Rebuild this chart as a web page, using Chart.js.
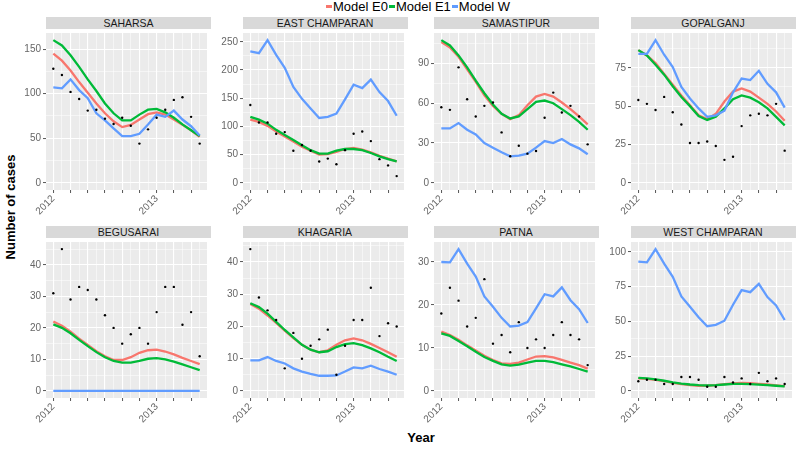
<!DOCTYPE html>
<html>
<head>
<meta charset="utf-8">
<script src="https://cdn.jsdelivr.net/npm/chart.js@4.4.0/dist/chart.umd.min.js"></script>
<style>
  body { margin: 0; width: 796px; height: 452px; background: #fff; position: relative; overflow: hidden;
         font-family: "Liberation Sans", Arial, sans-serif; }
  .panel { position: absolute; }
  .strip { position: absolute; background: #D9D9D9; color: #1A1A1A; font-size: 10.5px; text-align: center;
           height: 12.5px; line-height: 13px; white-space: nowrap; }
  #legend { position: absolute; left: 326px; top: -1px; display: flex; align-items: center; font-size: 13px; color: #000; }
  #legend span.key { display: inline-block; width: 6px; height: 2.5px; margin: 0 1px 0 0; }
  #legend span.txt { margin-right: 1px; }
  #ytitle { position: absolute; left: 10px; top: 207px; transform: translate(-50%, -50%) rotate(-90deg);
            font-weight: bold; font-size: 13px; white-space: nowrap; }
  #xtitle { position: absolute; left: 421px; top: 437px; transform: translate(-50%, -50%);
            font-weight: bold; font-size: 13px; }
</style>
</head>
<body>
<div id="legend"></div>
<div id="ytitle">Number of cases</div>
<div id="xtitle">Year</div>
<script>
// monthly points, Jan 2012 .. Jun 2013
const months = ['2012-01', '2012-02', '2012-03', '2012-04', '2012-05', '2012-06', '2012-07', '2012-08', '2012-09',
                '2012-10', '2012-11', '2012-12', '2013-01', '2013-02', '2013-03', '2013-04', '2013-05', '2013-06'];

const districts = ['SAHARSA', 'EAST CHAMPARAN', 'SAMASTIPUR', 'GOPALGANJ',
                   'BEGUSARAI', 'KHAGARIA', 'PATNA', 'WEST CHAMPARAN'];

// y tick spacing of each facet
const tickSteps = [50, 50, 30, 25, 10, 10, 10, 25];

// observed cases (black dots)
const observed = [
  [128, 121, 102, 94, 81, 82, 72, 66, 73, 64, 44, 60, 73, 82, 93, 96, 74, 44],
  [138, 107, 107, 87, 90, 57, 67, 57, 38, 43, 33, 58, 87, 91, 74, 42, 31, 12],
  [57, 55, 87, 63, 50, 58, 60.5, 38, 20, 28, 22, 24, 49, 68, 53, 58, 50, 29],
  [54, 51.5, 47.5, 56, 46, 38, 26, 26, 27, 24, 15, 17, 37, 44, 45, 44, 51.5, 21],
  [31, 45, 29, 33, 32, 29, 24, 20, 15, 18, 20, 15, 25, 33, 33, 21, 25, 11],
  [44, 29, 25, 22, 7, 18, 10, 14, 16, 19, 5, 14, 22, 22, 32, 17, 21, 20],
  [18, 24, 21, 15, 17, 26, 11, 13, 9, 16, 10, 12, 10, 13, 16, 13, 12, 6],
  [7, 8, 8, 5, 5, 10, 10, 8, 3, 3, 10, 6, 9, 5, 13, 7, 9, 5]
];

const modelE0 = [
  [145, 137, 126, 113, 101, 89, 78, 69, 62.5, 65, 71, 77, 79, 76.5, 71, 65, 59, 51.5],
  [112, 108, 101, 91, 82, 73.5, 64, 57, 50, 51, 55, 60, 62, 59, 54, 48, 43, 38],
  [106, 102, 95, 85.5, 76, 66, 58, 52, 48, 51, 58.5, 65, 67, 65, 60.5, 55.5, 50, 44],
  [86.5, 83, 78, 71, 64, 57, 50.5, 44, 41.5, 45, 53, 59.5, 61.5, 59.5, 55.5, 51.5, 46.5, 40.5],
  [22, 20.7, 18.8, 16.6, 14.6, 12.6, 11, 9.8, 9.8, 10.7, 12.1, 12.9, 13.1, 12.5, 11.6, 10.5, 9.5, 8.5],
  [27, 25.5, 23.4, 21.1, 18.7, 16.4, 14.3, 12.8, 12, 12.6, 14.3, 15.7, 16.3, 15.7, 14.6, 13.3, 12, 10.6],
  [13.8, 13, 11.9, 10.6, 9.4, 8.2, 7.2, 6.4, 6.3, 6.6, 7.3, 8, 8.1, 7.8, 7.2, 6.6, 6, 5.2],
  [9.1, 8.6, 7.9, 7, 5.8, 4.9, 4.2, 3.7, 3.7, 4.2, 4.9, 5.4, 5.7, 5.6, 5.1, 4.6, 4, 3.5]
];

const modelE1 = [
  [160, 154, 143, 130, 116, 103, 89, 78, 70, 70, 76.5, 82, 83, 79, 73, 65.5, 59, 52.5],
  [117, 112, 105, 94, 85, 76, 66.5, 58, 52, 52, 57, 60, 60, 58, 53, 47, 42, 38],
  [107.5, 103.5, 96, 87, 77, 67.5, 59, 52, 48.5, 50, 55.5, 61, 62, 60, 55.5, 51, 46, 40],
  [86.5, 83, 77, 70.5, 63, 56, 50, 43.5, 41, 43, 48.5, 54.5, 57, 55.5, 52.5, 48.5, 43, 37.5],
  [21.1, 20, 18.3, 16.2, 14.2, 12.3, 10.7, 9.5, 9, 9, 9.5, 10.2, 10.4, 10, 9.3, 8.4, 7.5, 6.6],
  [27.2, 26, 24, 21.4, 18.9, 16.6, 14.3, 12.8, 12, 12.3, 13.6, 14.5, 14.8, 14.2, 13.2, 12, 10.6, 9.3],
  [13.4, 12.8, 11.6, 10.4, 9.1, 7.9, 7, 6.2, 5.9, 6.1, 6.6, 7, 7, 6.7, 6.2, 5.7, 5.1, 4.5],
  [9.4, 9, 8.3, 7.3, 6.2, 5.3, 4.6, 4.1, 3.9, 4.1, 4.6, 5, 5.1, 4.9, 4.5, 4.1, 3.7, 3.3]
];

const modelW = [
  [107, 106, 116, 104, 95, 78, 70, 61, 52.5, 52.5, 55, 65.5, 76.5, 74, 81, 71, 63.5, 53],
  [233, 230, 253, 227, 204, 170, 149, 132, 115, 117, 123, 148, 174, 168, 183, 161, 145, 119],
  [41, 41, 45, 40, 36.5, 30, 26.5, 23, 20, 20.5, 22, 26.5, 31.5, 30, 33, 29, 26, 21.5],
  [84, 84, 93, 83.5, 75.5, 62.5, 55, 48.5, 43, 44, 47, 59, 68, 67, 73, 64.5, 59, 49],
  [0, 0, 0, 0, 0, 0, 0, 0, 0, 0, 0, 0, 0, 0, 0, 0, 0, 0],
  [9.5, 9.5, 10.5, 9.3, 8.5, 7, 6, 5.3, 4.7, 4.7, 4.8, 6, 7.3, 7, 7.8, 6.8, 6, 5],
  [30, 29.9, 33, 29.6, 26.6, 22, 19.6, 17, 15, 15.2, 16, 19.2, 22.5, 22, 24.1, 21.1, 19, 15.8],
  [93, 92.5, 102, 91.5, 82, 68, 60.5, 53, 46.5, 47.5, 50.5, 62, 72.5, 71, 77, 67.5, 61.5, 51]
];

const seriesNames = ['Model E0', 'Model E1', 'Model W'];
const seriesColors = ['#F8766D', '#00BA38', '#619CFF'];

// facet layout
const colLeft = [46, 242.5, 433.5, 630.5];
const rowTop = [29, 238];
const panelW = 165;
const panelH = [161, 160];
const axisW = 40;
const xAxisH = 34;
const axisTextColor = '#666';

const legend = document.getElementById('legend');
seriesNames.forEach((name, k) => {
  const key = document.createElement('span');
  key.className = 'key';
  key.style.background = seriesColors[k];
  const txt = document.createElement('span');
  txt.className = 'txt';
  txt.textContent = name;
  legend.appendChild(key);
  legend.appendChild(txt);
});

const panelBg = {
  id: 'panelBg',
  beforeDraw(chart) {
    const { ctx, chartArea: a } = chart;
    ctx.save();
    ctx.fillStyle = '#EBEBEB';
    ctx.fillRect(a.left, a.top, a.width, a.height);
    ctx.restore();
  }
};

const toPoints = arr => arr.map((v, i) => ({ x: i, y: v }));
const xPad = (months.length - 1) * 0.05;

districts.forEach((name, i) => {
  const col = i % 4, row = Math.floor(i / 4);
  const left = colLeft[col], top = rowTop[row], h = panelH[row];

  const strip = document.createElement('div');
  strip.className = 'strip';
  strip.style.left = left + 'px';
  strip.style.top = (top - 12.5) + 'px';
  strip.style.width = panelW + 'px';
  strip.textContent = name;

  const wrap = document.createElement('div');
  wrap.className = 'panel';
  wrap.style.left = (left - axisW) + 'px';
  wrap.style.top = top + 'px';
  const canvas = document.createElement('canvas');
  canvas.width = axisW + panelW;
  canvas.height = h + xAxisH;
  wrap.appendChild(canvas);
  document.body.appendChild(wrap);
  document.body.appendChild(strip);

  const all = observed[i].concat(modelE0[i], modelE1[i], modelW[i]);
  const lo = Math.min(0, ...all), hi = Math.max(...all);
  const yPad = (hi - lo) * 0.05;
  const step = tickSteps[i];
  const isMajor = v => Math.abs(v / step - Math.round(v / step)) < 1e-6;

  const line = (data, k, order) => ({
    label: seriesNames[k], data: toPoints(data), borderColor: seriesColors[k],
    borderWidth: 2.3, pointRadius: 0, tension: 0, order
  });

  new Chart(canvas, {
    type: 'line',
    data: {
      datasets: [
        { label: 'Observed', data: toPoints(observed[i]), showLine: false, pointRadius: 1.2,
          pointBackgroundColor: '#000', pointBorderWidth: 0, order: 0 },
        line(modelW[i], 2, 1),
        line(modelE1[i], 1, 2),
        line(modelE0[i], 0, 3)
      ]
    },
    options: {
      responsive: false,
      animation: false,
      events: [],
      layout: { padding: 0 },
      plugins: { legend: { display: false }, tooltip: { enabled: false } },
      scales: {
        x: {
          type: 'linear',
          min: -xPad,
          max: months.length - 1 + xPad,
          afterBuildTicks: s => { s.ticks = months.map((m, j) => ({ value: j })); },
          afterFit: s => { s.height = xAxisH; s.paddingLeft = 0; s.paddingRight = 0; },
          border: { display: false },
          grid: {
            color: '#FFFFFF',
            lineWidth: c => (c.tick && c.tick.value % 2 === 0 ? 1.1 : 0.5),
            tickColor: c => (c.tick && c.tick.value % 2 === 0 ? '#555' : 'rgba(0,0,0,0)'),
            tickWidth: 1,
            tickLength: 3
          },
          ticks: {
            autoSkip: false,
            maxRotation: 45,
            minRotation: 45,
            padding: 0,
            color: axisTextColor,
            font: { family: 'Liberation Sans', size: 10 },
            callback: v => (months[v] && months[v].endsWith('-01') ? months[v].slice(0, 4) : '')
          }
        },
        y: {
          min: lo - yPad,
          max: hi + yPad,
          afterBuildTicks: s => {
            const half = step / 2, ticks = [];
            for (let v = Math.ceil(s.min / half) * half; v <= s.max; v += half) ticks.push({ value: v });
            s.ticks = ticks;
          },
          afterFit: s => { s.width = axisW; s.paddingTop = 0; s.paddingBottom = 0; },
          border: { display: false },
          grid: {
            color: '#FFFFFF',
            lineWidth: c => (c.tick && isMajor(c.tick.value) ? 1.1 : 0.5),
            tickColor: c => (c.tick && isMajor(c.tick.value) ? '#555' : 'rgba(0,0,0,0)'),
            tickWidth: 1,
            tickLength: 3
          },
          ticks: {
            padding: 2,
            color: axisTextColor,
            font: { family: 'Liberation Sans', size: 10 },
            callback: v => (isMajor(v) ? String(Math.round(v)) : '')
          }
        }
      }
    },
    plugins: [panelBg]
  });
});
</script>
</body>
</html>
